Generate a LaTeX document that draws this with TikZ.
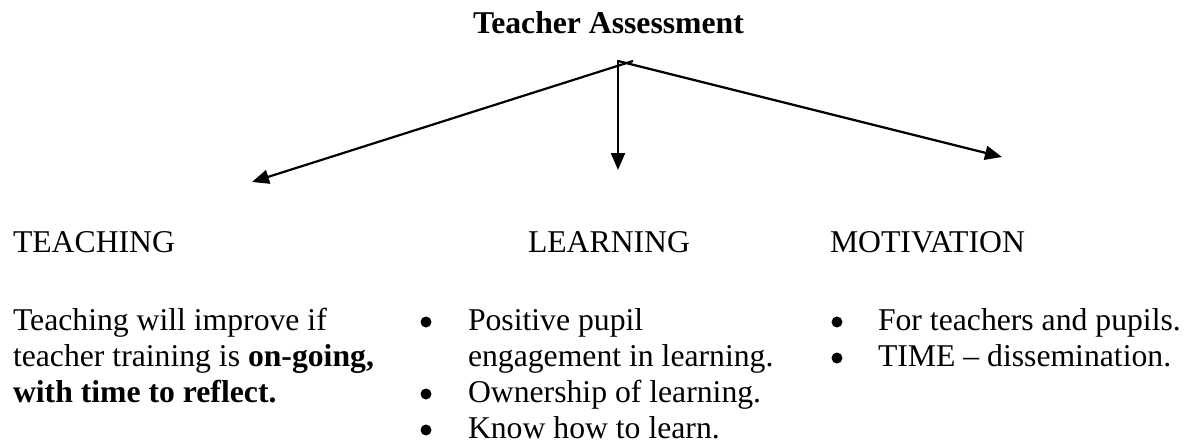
\documentclass[tikz,border=0pt]{standalone}
\usepackage{fontspec}
\setmainfont{Liberation Serif}
\usetikzlibrary{arrows.meta}
\begin{document}
\begin{tikzpicture}[x=1pt,y=-1pt,
  txt/.style={inner sep=0pt, outer sep=0pt, anchor=base west, align=left,
    font=\fontsize{31.7}{36.2}\selectfont},
  ttl/.style={txt, font=\fontsize{31.7}{36.2}\selectfont\bfseries},
  bul/.style={circle, fill=black, inner sep=0pt, outer sep=0pt, minimum size=11pt},
  link/.style={line width=2.2pt, -{Triangle[length=17pt,width=14pt]}}]
\useasboundingbox (0,0) rectangle (1189,447);

% title
\node[ttl] (title) at (473,33) {Teacher Assessment};

% branching arrows
\coordinate (apexL) at (633,61);
\coordinate (apexR) at (618,61);
\coordinate (apexM) at (618,60);
\coordinate (tipL) at (252,182);
\coordinate (tipM) at (618,170);
\coordinate (tipR) at (1002,157);
\draw[link] (apexL) -- (tipL);
\draw[link] (apexM) -- (tipM);
\draw[link] (apexR) -- (tipR);

% headings
\node[txt] (teach) at (13,252) {TEACHING};
\node[txt] (learn) at (528,252) {LEARNING};
\node[txt] (motiv) at (830,252) {MOTIVATION};

% teaching column (base anchor sits on the last line)
\node[txt] (teachtext) at (13,402.4) {Teaching will improve if\\
  teacher training is \textbf{on-going,}\\
  \textbf{with time to reflect.}};

% learning column
\node[bul] (lb1) at (426,322) {};
\node[txt] (li1) at (468,366.2) {Positive pupil\\engagement in learning.};
\node[bul] (lb2) at (426,394) {};
\node[txt] (li2) at (468,402) {Ownership of learning.};
\node[bul] (lb3) at (426,430) {};
\node[txt] (li3) at (468,438) {Know how to learn.};

% motivation column
\node[bul] (mb1) at (837,322) {};
\node[txt] (mi1) at (878,330) {For teachers and pupils.};
\node[bul] (mb2) at (837,358) {};
\node[txt] (mi2) at (878,366) {TIME – dissemination.};
\end{tikzpicture}
\end{document}
